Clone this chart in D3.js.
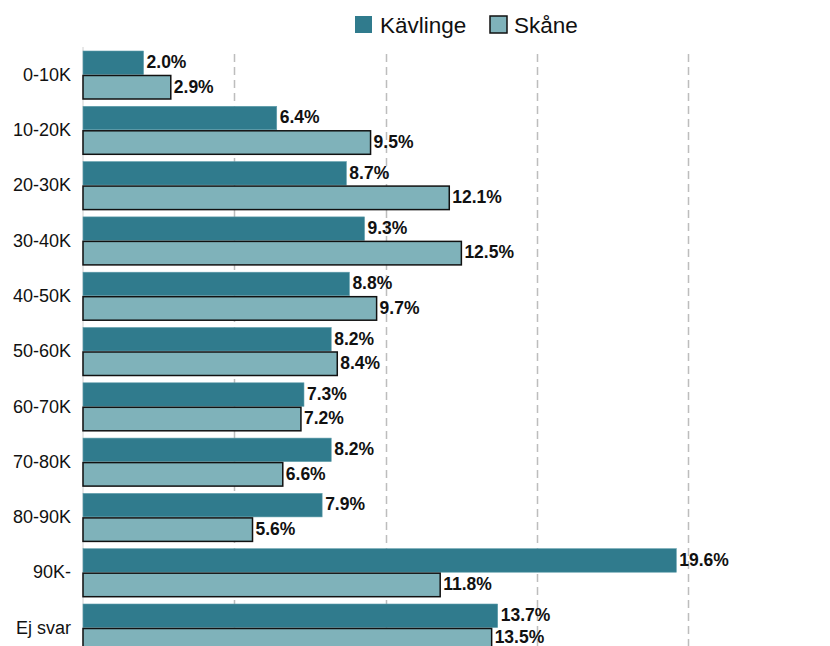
<!DOCTYPE html>
<html>
<head>
<meta charset="utf-8">
<script src="https://cdn.jsdelivr.net/npm/d3@7"></script>
<style>
    body { margin: 0; background: #fff; }
    text { font-family: Arial, "Liberation Sans", sans-serif; }
</style>
</head>
<body>
<script>
// Datos
var categories = ["0-10K", "10-20K", "20-30K", "30-40K", "40-50K", "50-60K", "60-70K", "70-80K", "80-90K", "90K-", "Ej svar"];
var seriesNames = ["Kävlinge", "Skåne"];
var kavlinge = [2.0, 6.4, 8.7, 9.3, 8.8, 8.2, 7.3, 8.2, 7.9, 19.6, 13.7];
var skane = [2.9, 9.5, 12.1, 12.5, 9.7, 8.4, 7.2, 6.6, 5.6, 11.8, 13.5];
var gridTicks = [5, 10, 15, 20];

var colors = {"Kävlinge": "#307b8d", "Skåne": "#7fb2ba"};

var data = categories.map((c, i) => ({
    cat: c,
    values: [
        {name: "Kävlinge", value: kavlinge[i], cat: c},
        {name: "Skåne", value: skane[i], cat: c}
    ]
}));

var width = 830;
var height = 646;

var svg = d3.select("body")
    .append("svg")
    .attr("width", width)
    .attr("height", height);

// Escalas
var x = d3.scaleLinear()
    .domain([0, 25])
    .range([83, 83 + 25 * 30.27]);

var y0 = d3.scaleBand()
    .domain(categories)
    .range([47.35, 655.65])
    .paddingInner(0.132)
    .paddingOuter(0.066);

var y1 = d3.scaleBand()
    .domain(seriesNames)
    .range([0, y0.bandwidth()])
    .paddingInner(0.04);

// Lineas de guia
svg.selectAll("line.grid")
    .data(gridTicks)
    .enter()
    .append("line")
    .attr("class", "grid")
    .attr("x1", d => Math.round(x(d)) + 0.5)
    .attr("x2", d => Math.round(x(d)) + 0.5)
    .attr("y1", 54)
    .attr("y2", height)
    .attr("stroke", "#bdbdbd")
    .attr("stroke-width", 1.5)
    .attr("stroke-dasharray", "8,5");

// Eje vertical claro
svg.append("line")
    .attr("x1", x(0))
    .attr("x2", x(0))
    .attr("y1", 47)
    .attr("y2", height)
    .attr("stroke", "#d0d0d0")
    .attr("stroke-width", 1);

// Barras
svg.selectAll("rect.bar")
    .data(data.flatMap(d => d.values))
    .enter()
    .append("rect")
    .attr("class", "bar")
    .attr("x", x(0))
    .attr("y", d => y0(d.cat) + y1(d.name))
    .attr("width", d => x(d.value) - x(0))
    .attr("height", y1.bandwidth())
    .attr("fill", d => colors[d.name])
    .attr("stroke", d => d.name === "Skåne" ? "#111" : "#5f9dab")
    .attr("stroke-width", d => d.name === "Skåne" ? 1.5 : 0.6);

// Etiquetas de valor (la ultima se sube para que quepa)
svg.selectAll("text.value")
    .data(data.flatMap(d => d.values))
    .enter()
    .append("text")
    .attr("class", "value")
    .attr("x", d => x(d.value) + 3)
    .attr("y", d => Math.min(y0(d.cat) + y1(d.name) + y1.bandwidth() / 2 - 1, height - 9))
    .attr("dy", "0.36em")
    .style("font-size", "17.5px")
    .style("font-weight", "bold")
    .style("fill", "#111")
    .text(d => d.value.toFixed(1) + "%");

// Eje Y (categorias)
var yAxis = d3.axisLeft(y0).tickSize(0).tickPadding(12);
var yg = svg.append("g")
    .attr("transform", `translate(${x(0)}, 0)`)
    .call(yAxis);
yg.select(".domain").remove();
yg.selectAll("text")
    .style("font-size", "18px")
    .style("font-family", "Arial, 'Liberation Sans', sans-serif")
    .style("fill", "#111");

// Leyenda
var legendPos = [
    {name: "Kävlinge", x: 355, tx: 380},
    {name: "Skåne", x: 490, tx: 514}
];
legendPos.forEach(p => {
    svg.append("rect")
        .attr("x", p.x)
        .attr("y", 16)
        .attr("width", 17)
        .attr("height", 17)
        .attr("fill", colors[p.name])
        .attr("stroke", p.name === "Skåne" ? "#111" : "none")
        .attr("stroke-width", 1.5);
    svg.append("text")
        .attr("x", p.tx)
        .attr("y", 33)
        .style("font-size", "22.5px")
        .style("fill", "#111")
        .text(p.name);
});
</script>
</body>
</html>
